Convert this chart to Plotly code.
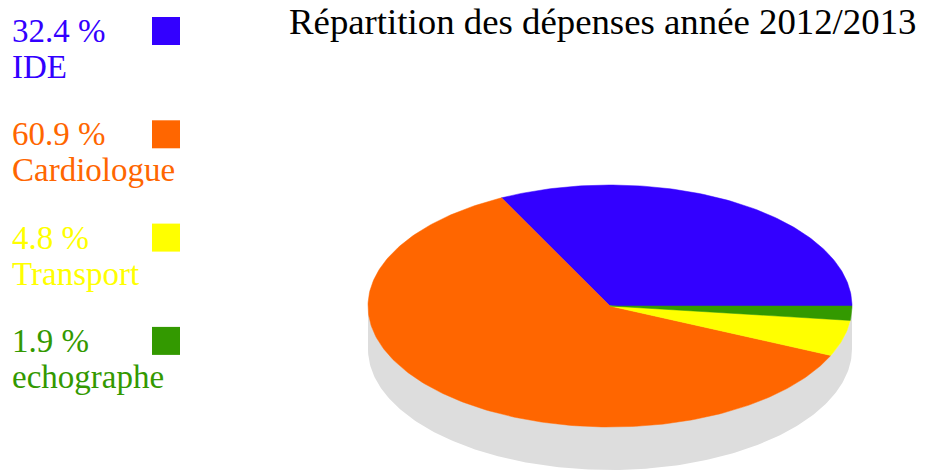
import numpy as np
import plotly.graph_objects as go

# ---- data ----
categories = ["IDE", "Cardiologue", "Transport", "echographe"]
percentages = [32.4, 60.9, 4.8, 1.9]
colors = ["#3300FF", "#FF6600", "#FFFF00", "#339900"]
title_text = "Répartition des dépenses année 2012/2013"

# ---- geometry (pixel space) ----
W, H = 925, 470
cx, cy = 610, 306
rx, ry = 242, 121
depth = 43
FONT = "Liberation Serif, Times New Roman, serif"

fig = go.Figure()

# side wall (gray)
t = np.linspace(np.pi, 2 * np.pi, 200)
xs_top = cx + rx * np.cos(t)
ys_top = cy - ry * np.sin(t)
xs = np.concatenate([xs_top, xs_top[::-1]])
ys = np.concatenate([ys_top, (ys_top + depth)[::-1]])
fig.add_trace(go.Scatter(x=xs, y=ys, fill="toself", fillcolor="#DDDDDD",
                         line=dict(width=0, color="#DDDDDD"), mode="lines",
                         hoverinfo="skip", showlegend=False))

# slices: start at 3 o'clock, go counter-clockwise
total = sum(percentages)
start = 0.0
for cat, val, col in zip(categories, percentages, colors):
    a0 = start
    a1 = start + 2 * np.pi * val / total
    tt = np.linspace(a0, a1, max(8, int(400 * val / total)))
    px = np.concatenate([[cx], cx + rx * np.cos(tt), [cx]])
    py = np.concatenate([[cy], cy - ry * np.sin(tt), [cy]])
    fig.add_trace(go.Scatter(x=px, y=py, fill="toself", fillcolor=col,
                             line=dict(width=0.5, color=col), mode="lines",
                             name=cat, hoverinfo="name", showlegend=False))
    start = a1

# legend (manual)
annotations = []
shapes = []
for i, (cat, val, col) in enumerate(zip(categories, percentages, colors)):
    top = 17 + i * 103.3
    shapes.append(dict(type="rect", xref="x", yref="y", x0=152, x1=180,
                       y0=top, y1=top + 28, fillcolor=col, line=dict(width=0)))
    annotations.append(dict(x=10, y=top + 14, xref="x", yref="y",
                            text=f"{val} %", showarrow=False, xanchor="left",
                            yanchor="middle", font=dict(family=FONT, size=33, color=col)))
    annotations.append(dict(x=10, y=top + 50, xref="x", yref="y",
                            text=cat, showarrow=False, xanchor="left",
                            yanchor="middle", font=dict(family=FONT, size=33, color=col)))

annotations.append(dict(x=288, y=0, xref="x", yref="y", text=title_text,
                        showarrow=False, xanchor="left", yanchor="top", borderpad=0,
                        font=dict(family=FONT, size=36.8, color="black")))

fig.update_layout(
    width=W, height=H, margin=dict(l=0, r=0, t=0, b=0),
    paper_bgcolor="white", plot_bgcolor="white",
    xaxis=dict(range=[0, W], visible=False, fixedrange=True),
    yaxis=dict(range=[H, 0], visible=False, fixedrange=True),
    annotations=annotations, shapes=shapes, showlegend=False,
)

fig.write_html("out.html", config={"displayModeBar": False},
               post_script="document.body.style.margin='0';document.body.style.overflow='hidden';")
